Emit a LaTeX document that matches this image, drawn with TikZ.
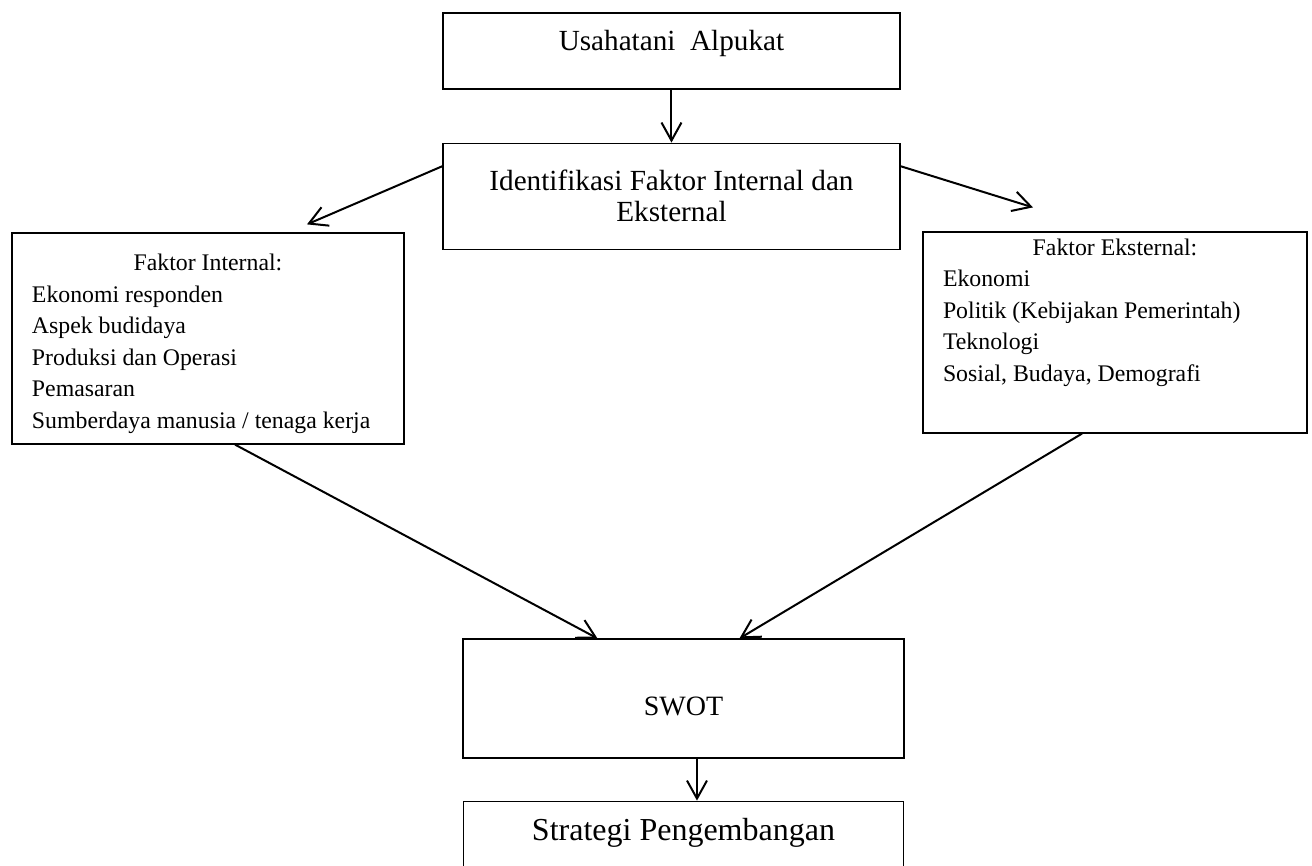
\documentclass[tikz,border=0pt]{standalone}
\usepackage{fontspec}
\setmainfont{Liberation Serif}
\usetikzlibrary{positioning,arrows.meta}
\tikzset{
  flow/.style={-{Straight Barb[length=9pt,width=10pt]},line width=1pt,draw=black},
  box/.style={draw=black,line width=0.6pt,inner sep=0pt,align=center},
  listbox/.style={draw=black,line width=0.6pt,inner xsep=10pt,inner ysep=0pt,
    font=\fontsize{11.9}{15.75}\selectfont}
}

\begin{document}
\begin{tikzpicture}[node distance=0.931cm]
  \useasboundingbox (0,0) rectangle (23.056,-15.218);
  \clip (0,0) rectangle (23.056,-15.218);
  \node[box,minimum width=8.031cm,minimum height=1.336cm,text height=10pt,text depth=10.5pt,
    font=\fontsize{14.6}{15}\selectfont] (usaha) at (11.800,-0.896) {Usahatani~~Alpukat};
  \node[box,below=of usaha,minimum width=8.031cm,minimum height=1.863cm,
    font=\fontsize{14.6}{15.5}\selectfont] (ident) {Identifikasi Faktor Internal dan\\Eksternal};
  \node[listbox,text height=19pt,text depth=86.5pt] (internal) at (3.655,-5.948) {%
    \parbox[t]{176pt}{{\centering Faktor Internal:\par}
    Ekonomi responden\\
    Aspek budidaya\\
    Produksi dan Operasi\\
    Pemasaran\\
    Sumberdaya manusia / tenaga kerja}};
  \node[listbox,text height=11.5pt,text depth=89pt] (external) at (19.594,-5.843) {%
    \parbox[t]{172pt}{{\centering Faktor Eksternal:\par}
    Ekonomi\\
    Politik (Kebijakan Pemerintah)\\
    Teknologi\\
    Sosial, Budaya, Demografi}};
  \node[box,minimum width=7.750cm,minimum height=2.091cm,text height=17pt,text depth=0.5pt,
    font=\fontsize{14}{16}\selectfont] (swot) at (12.011,-12.275) {SWOT};
  \node[box,below=21pt of swot,minimum width=7.732cm,minimum height=2.109cm,
    text height=8pt,text depth=29pt,font=\fontsize{16}{18}\selectfont] (strat) {Strategi Pengembangan};
  \draw[flow] (usaha) -- (ident);
  \draw[flow] ([yshift=15pt]ident.west) -- ([xshift=49.5pt,yshift=4pt]internal.north);
  \draw[flow] ([yshift=15pt]ident.east) -- ([xshift=-41pt,yshift=12pt]external.north);
  \draw[flow] ([xshift=13.5pt]internal.south) -- ([xshift=-43pt]swot.north);
  \draw[flow] ([xshift=-16.5pt]external.south) -- ([xshift=28pt]swot.north);
  \draw[flow] ([xshift=6.75pt]swot.south) -- ([xshift=6.75pt]strat.north);
\end{tikzpicture}
\end{document}
